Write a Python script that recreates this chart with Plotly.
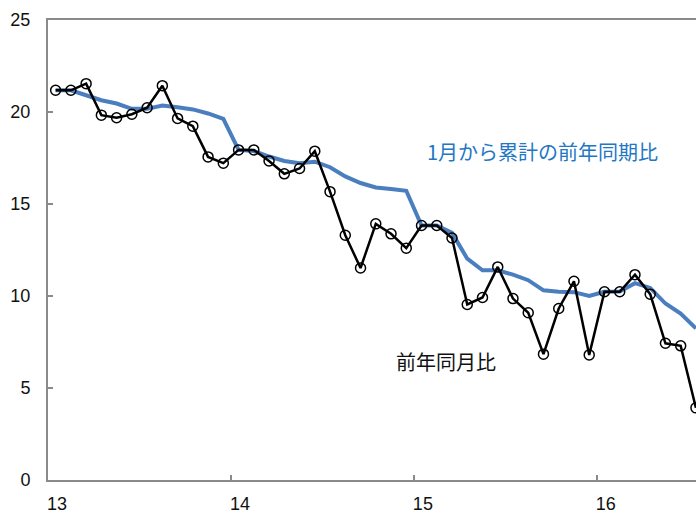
import plotly.graph_objects as go

# Monthly series, Jan 2013 .. Jul 2016 (year labels shown as two digits)
start_year = 13
n_months = 43

# Year-on-year change for each month (%)
yoy_monthly = [
    21.18, 21.18, 21.54, 19.83, 19.69, 19.88, 20.23, 21.43, 19.65, 19.23, 17.56, 17.22,
    17.94, 17.94, 17.34, 16.64, 16.93, 17.87, 15.67, 13.30, 11.52, 13.92, 13.38, 12.60,
    13.83, 13.83, 13.15, 9.54, 9.92, 11.58, 9.86, 9.09, 6.84, 9.32, 10.80, 6.80,
    10.23, 10.23, 11.16, 10.10, 7.43, 7.29, 3.92,
]

# Year-to-date (cumulative from January) change vs. same period last year (%)
yoy_cumulative = [
    21.18, 21.18, 20.91, 20.64, 20.46, 20.17, 20.17, 20.35, 20.26, 20.14, 19.92, 19.63,
    17.94, 17.88, 17.58, 17.34, 17.22, 17.30, 17.00, 16.50, 16.14, 15.90, 15.81, 15.72,
    13.83, 13.83, 13.43, 12.03, 11.40, 11.40, 11.16, 10.86, 10.31, 10.23, 10.21, 10.00,
    10.23, 10.25, 10.70, 10.44, 9.59, 9.05, 8.24,
]

year_ticks = [13, 14, 15, 16]
year_labels = ["13", "14", "15", "16"]

label_cumulative = "1月から累計の前年同期比"
label_monthly = "前年同月比"

# each month sits in the middle of its slot within the year
x = [start_year + (k + 0.5) / 12 for k in range(n_months)]

axis_grey = "#8a8a8a"
blue_line = "#4A7EBF"
blue_text = "#2277C4"
tick_font = dict(family="Liberation Sans, Arial, sans-serif", size=18, color="#111111")
cjk_font = "Noto Sans CJK JP, sans-serif"

fig = go.Figure()

fig.add_trace(go.Scatter(
    x=x, y=yoy_cumulative, mode="lines",
    line=dict(color=blue_line, width=4),
    hoverinfo="skip", showlegend=False,
))

fig.add_trace(go.Scatter(
    x=x, y=yoy_monthly, mode="lines+markers",
    line=dict(color="black", width=2.5),
    marker=dict(symbol="circle-open", size=10, color="black",
                line=dict(color="black", width=1.5)),
    cliponaxis=False,
    hoverinfo="skip", showlegend=False,
))

fig.add_annotation(
    x=15.704, y=17.86, xref="x", yref="y",
    text=label_cumulative, showarrow=False,
    font=dict(family=cjk_font, size=20, color=blue_text),
)
fig.add_annotation(
    x=15.177, y=6.46, xref="x", yref="y",
    text=label_monthly, showarrow=False,
    font=dict(family=cjk_font, size=20, color="#111111"),
)

fig.update_layout(
    width=696, height=514,
    margin=dict(l=48, r=0, t=20, b=31),
    paper_bgcolor="white", plot_bgcolor="white",
    showlegend=False,
)

# the last month lands right on the right-hand edge of the plot
fig.update_xaxes(
    range=[13, 16.542],
    tickmode="array", tickvals=year_ticks, ticktext=year_labels,
    ticks="inside", ticklen=5, tickwidth=1.5, tickcolor=axis_grey,
    showline=True, linecolor=axis_grey, linewidth=2, mirror=True,
    showgrid=False, zeroline=False,
    tickfont=tick_font, ticklabelshift=9, ticklabelstandoff=6,
)

fig.update_yaxes(
    range=[0, 25], tickmode="linear", tick0=0, dtick=5,
    ticks="inside", ticklen=5, tickwidth=1.5, tickcolor=axis_grey,
    showline=True, linecolor=axis_grey, linewidth=2,
    showgrid=False, zeroline=False,
    tickfont=tick_font, ticklabelstandoff=12,
)

fig.write_html("out.html")
